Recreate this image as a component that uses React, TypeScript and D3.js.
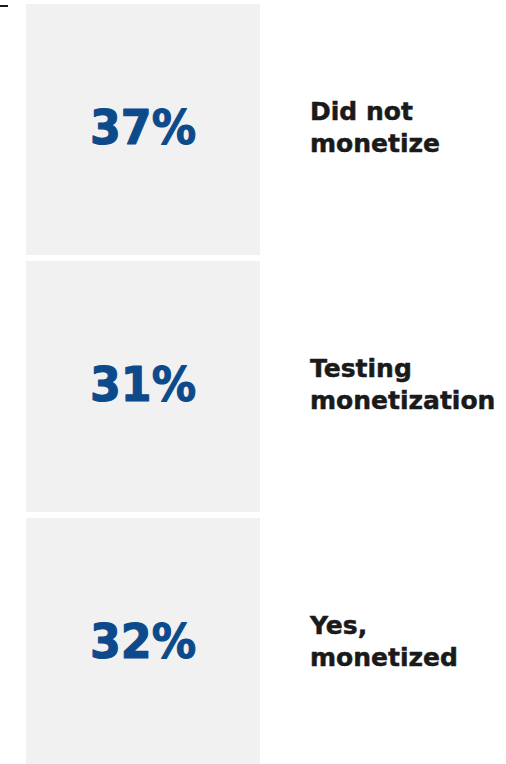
import React from "react";
import * as d3 from "d3";

const categories = ["Did not monetize", "Testing monetization", "Yes, monetized"];
const percentValues = [37, 31, 32];
const labelLines = [
  ["Did not", "monetize"],
  ["Testing", "monetization"],
  ["Yes,", "monetized"],
];

const W = 506;
const H = 764;

export default function App() {
  const y = d3
    .scaleBand<string>()
    .domain(categories)
    .range([4, 769])
    .paddingInner(6 / 257)
    .paddingOuter(0);
  const boxX = 26;
  const boxW = 234;
  const fmt = (v: number) => d3.format("d")(v) + "%";

  return (
    <svg
      width={W}
      height={H}
      style={{ position: "absolute", left: 0, top: 0, display: "block" }}
    >
      <rect x={0} y={5} width={8} height={2} fill="#1a1a1a" />
      {categories.map((c, i) => {
        const top = y(c) as number;
        const bw = y.bandwidth();
        const cy = top + bw / 2;
        return (
          <g key={c}>
            <rect x={boxX} y={top} width={boxW} height={bw} fill="#f1f1f1" />
            <text
              x={boxX + boxW / 2}
              y={cy + 14}
              textAnchor="middle"
              fontFamily="'DejaVu Sans', sans-serif"
              fontWeight="bold"
              fontSize={48}
              textLength={106}
              lengthAdjust="spacingAndGlyphs"
              fill="#0d4a8b"
              stroke="#0d4a8b"
              strokeWidth={1.2}
              strokeLinejoin="round"
            >
              {fmt(percentValues[i])}
            </text>
            {labelLines[i].map((ln, j) => (
              <text
                key={j}
                x={310}
                y={cy - 10 + j * 32}
                fontFamily="'DejaVu Sans', sans-serif"
                fontWeight="bold"
                fontSize={25}
                fill="#1a1a1a"
                stroke="#1a1a1a"
                strokeWidth={0.5}
                strokeLinejoin="round"
              >
                {ln}
              </text>
            ))}
          </g>
        );
      })}
    </svg>
  );
}
